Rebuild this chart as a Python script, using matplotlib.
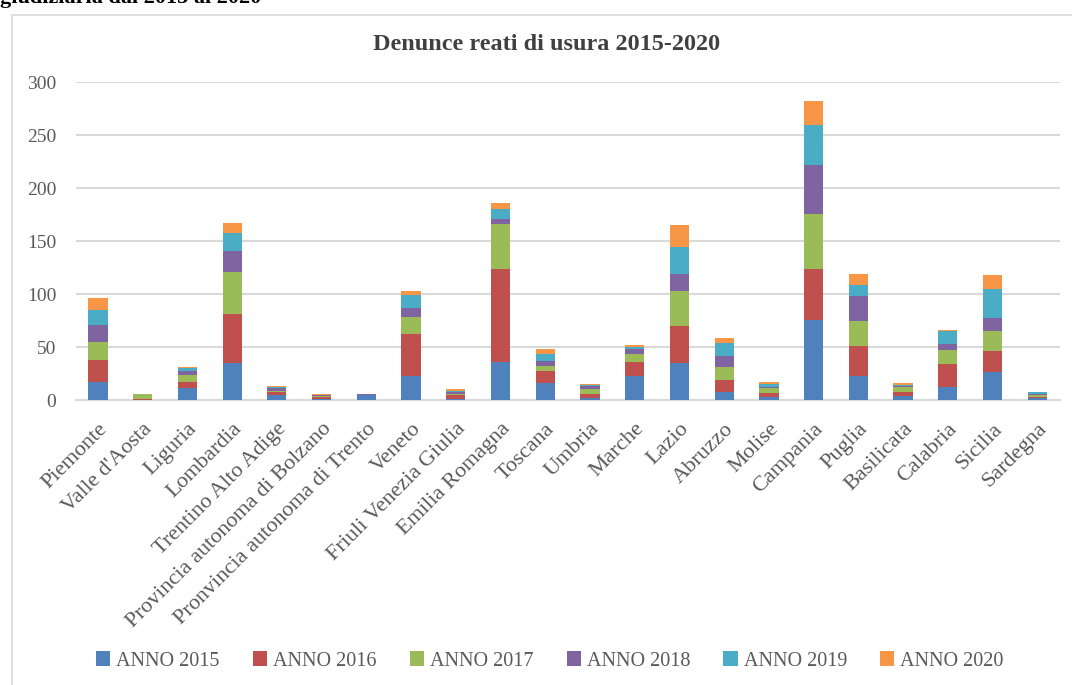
import matplotlib
matplotlib.use("Agg")
import matplotlib.pyplot as plt
import numpy as np
from matplotlib.patches import Rectangle

regioni = ["Piemonte", "Valle d'Aosta", "Liguria", "Lombardia", "Trentino Alto Adige",
           "Provincia autonoma di Bolzano", "Pronvincia autonoma di Trento", "Veneto",
           "Friuli Venezia Giulia", "Emilia Romagna", "Toscana", "Umbria", "Marche",
           "Lazio", "Abruzzo", "Molise", "Campania", "Puglia", "Basilicata", "Calabria",
           "Sicilia", "Sardegna"]

anno_2015 = [17, 0, 11, 35, 5, 1, 5, 23, 1, 36, 16, 2, 23, 35, 8, 3, 76, 23, 4, 12, 26, 2]
anno_2016 = [21, 1, 6, 46, 3, 2, 0, 39, 4, 88, 11, 4, 13, 35, 11, 4, 48, 28, 4, 22, 20, 1]
anno_2017 = [17, 5, 7, 40, 1, 1, 0, 16, 1, 42, 5, 4, 7, 33, 12, 4, 52, 24, 4, 13, 19, 2]
anno_2018 = [16, 0, 3, 20, 2, 1, 1, 9, 2, 5, 5, 3, 5, 16, 11, 1, 46, 23, 1, 6, 12, 1]
anno_2019 = [14, 0, 3, 17, 1, 0, 0, 12, 1, 9, 6, 1, 2, 25, 12, 3, 38, 11, 1, 12, 28, 2]
anno_2020 = [11, 0, 1, 9, 1, 1, 0, 4, 1, 6, 5, 1, 2, 21, 5, 2, 22, 10, 2, 1, 13, 0]

serie = [anno_2015, anno_2016, anno_2017, anno_2018, anno_2019, anno_2020]
etichette = ["ANNO 2015", "ANNO 2016", "ANNO 2017", "ANNO 2018", "ANNO 2019", "ANNO 2020"]
colori = ["#4F81BD", "#C0504D", "#9BBB59", "#8064A2", "#4BACC6", "#F79646"]

plt.rcParams['font.family'] = ['Liberation Serif', 'DejaVu Serif']

fig = plt.figure(figsize=(10.72, 6.85), dpi=100)
ax = fig.add_axes([0.0705, 0.416, 0.918, 0.464])

x = np.arange(len(regioni))
bottom = np.zeros(len(regioni))
for vals, lab, col in zip(serie, etichette, colori):
    ax.bar(x, vals, bottom=bottom, width=0.43, color=col, label=lab, zorder=3)
    bottom += np.array(vals)

ax.set_xlim(-0.5, len(regioni) - 0.5)
ax.set_ylim(0, 300)
ax.set_yticks(range(0, 301, 50))
ax.grid(axis='y', color='#D9D9D9', linewidth=1.5, zorder=0)
for s in ['top', 'right', 'left']:
    ax.spines[s].set_visible(False)
ax.spines['bottom'].set_color('#D9D9D9')
ax.spines['bottom'].set_linewidth(1.5)
ax.tick_params(axis='both', length=0, labelcolor='#595959')
ax.tick_params(axis='y', pad=14, labelsize=14)
ax.set_xticks(x)
ax.set_xticklabels(regioni, rotation=45, ha='right', rotation_mode='anchor')
ax.tick_params(axis='x', pad=14, labelsize=16)

fig.text(0.51, 0.935, "Denunce reati di usura 2015-2020", ha='center', va='center',
         fontsize=17.5, fontweight='bold', color='#404040')

fig.legend(loc='center', bbox_to_anchor=(0.513, 0.035), ncol=6, frameon=False,
           fontsize=14.5, handlelength=0.7, handleheight=0.7, handletextpad=0.3,
           columnspacing=1.65, labelcolor='#595959')

# frame of the chart box and the clipped heading above it
fig.patches.append(Rectangle((12 / 1072, -0.1), 1.2, (685 - 15) / 685 + 0.1,
                             transform=fig.transFigure, fill=False,
                             edgecolor='#D9D9D9', linewidth=1.2))
fig.text(0.0, 1.0 - 3 / 685, "giudiziaria dal 2015 al 2020", ha='left', va='baseline',
         fontsize=16, fontweight='bold', color='black')

fig.savefig("out.png", dpi=100)
